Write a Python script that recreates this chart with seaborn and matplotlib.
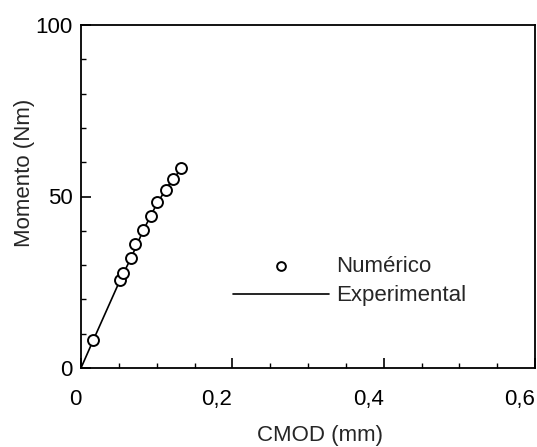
import matplotlib
matplotlib.use("Agg")
import matplotlib.pyplot as plt
import seaborn as sns
import pandas as pd
from matplotlib.ticker import MultipleLocator, FixedLocator

# Data
num_cmod = [0.016, 0.0515, 0.056, 0.066, 0.072, 0.082, 0.0925, 0.101, 0.112, 0.122, 0.132]
num_mom = [8.2, 25.6, 27.8, 32.2, 36.2, 40.3, 44.4, 48.3, 52.0, 55.2, 58.3]
exp_cmod = [0.0, 0.016, 0.052, 0.066, 0.082, 0.101, 0.122, 0.129]
exp_mom = [0.0, 8.0, 25.8, 32.0, 40.0, 48.2, 55.4, 57.0]
x_ticks = [0, 0.2, 0.4, 0.6]
x_ticklabels = ["0", "0,2", "0,4", "0,6"]
y_ticks = [0, 50, 100]
y_ticklabels = ["0", "50", "100"]

sns.set_style("ticks")
plt.rcParams['font.family'] = ['Liberation Sans', 'DejaVu Sans']

FS = 16
fig = plt.figure(figsize=(5.37, 4.47), dpi=100)
ax = fig.add_axes([81/537, (447-368)/447, (535-81)/537, (368-25)/447])

df_num = pd.DataFrame({"CMOD": num_cmod, "Momento": num_mom})
df_exp = pd.DataFrame({"CMOD": exp_cmod, "Momento": exp_mom})

sns.scatterplot(data=df_num, x="CMOD", y="Momento", ax=ax, marker="o", s=62,
                facecolor="white", edgecolor="black", linewidth=1.4,
                label="Numérico", zorder=3)
sns.lineplot(data=df_exp, x="CMOD", y="Momento", ax=ax, color="black",
             linewidth=1.2, label="Experimental", sort=False, zorder=2)

ax.set_xlim(0, 0.6)
ax.set_ylim(0, 100)
ax.xaxis.set_major_locator(FixedLocator(x_ticks))
ax.set_xticklabels(x_ticklabels, ha="right")
ax.xaxis.set_minor_locator(MultipleLocator(0.05))
ax.yaxis.set_major_locator(FixedLocator(y_ticks))
ax.set_yticklabels(y_ticklabels)
ax.yaxis.set_minor_locator(MultipleLocator(10))

ax.tick_params(axis="both", which="both", direction="in", colors="black",
               top=False, right=False)
ax.tick_params(axis="both", which="major", length=7, width=1.2, labelsize=FS)
ax.tick_params(axis="both", which="minor", length=3.5, width=1.0)
ax.tick_params(axis="x", which="major", pad=15)
ax.tick_params(axis="y", which="major", pad=6)

for s in ax.spines.values():
    s.set_visible(True)
    s.set_linewidth(1.3)
    s.set_color("black")

ax.set_xlabel("CMOD (mm)", fontsize=FS)
ax.set_ylabel("Momento (Nm)", fontsize=FS)
ax.xaxis.set_label_coords((320-81)/454, -(425-368)/343)
ax.yaxis.set_label_coords(-(81-35)/454, (368-173)/343)

leg = ax.legend(loc="upper left", bbox_to_anchor=((233-81)/454, (368-256)/343),
                frameon=False, fontsize=FS, handlelength=4.3, handletextpad=0.36,
                labelspacing=0.38, borderpad=0, borderaxespad=0, markerscale=0.8)

fig.savefig("out.png", dpi=100)
